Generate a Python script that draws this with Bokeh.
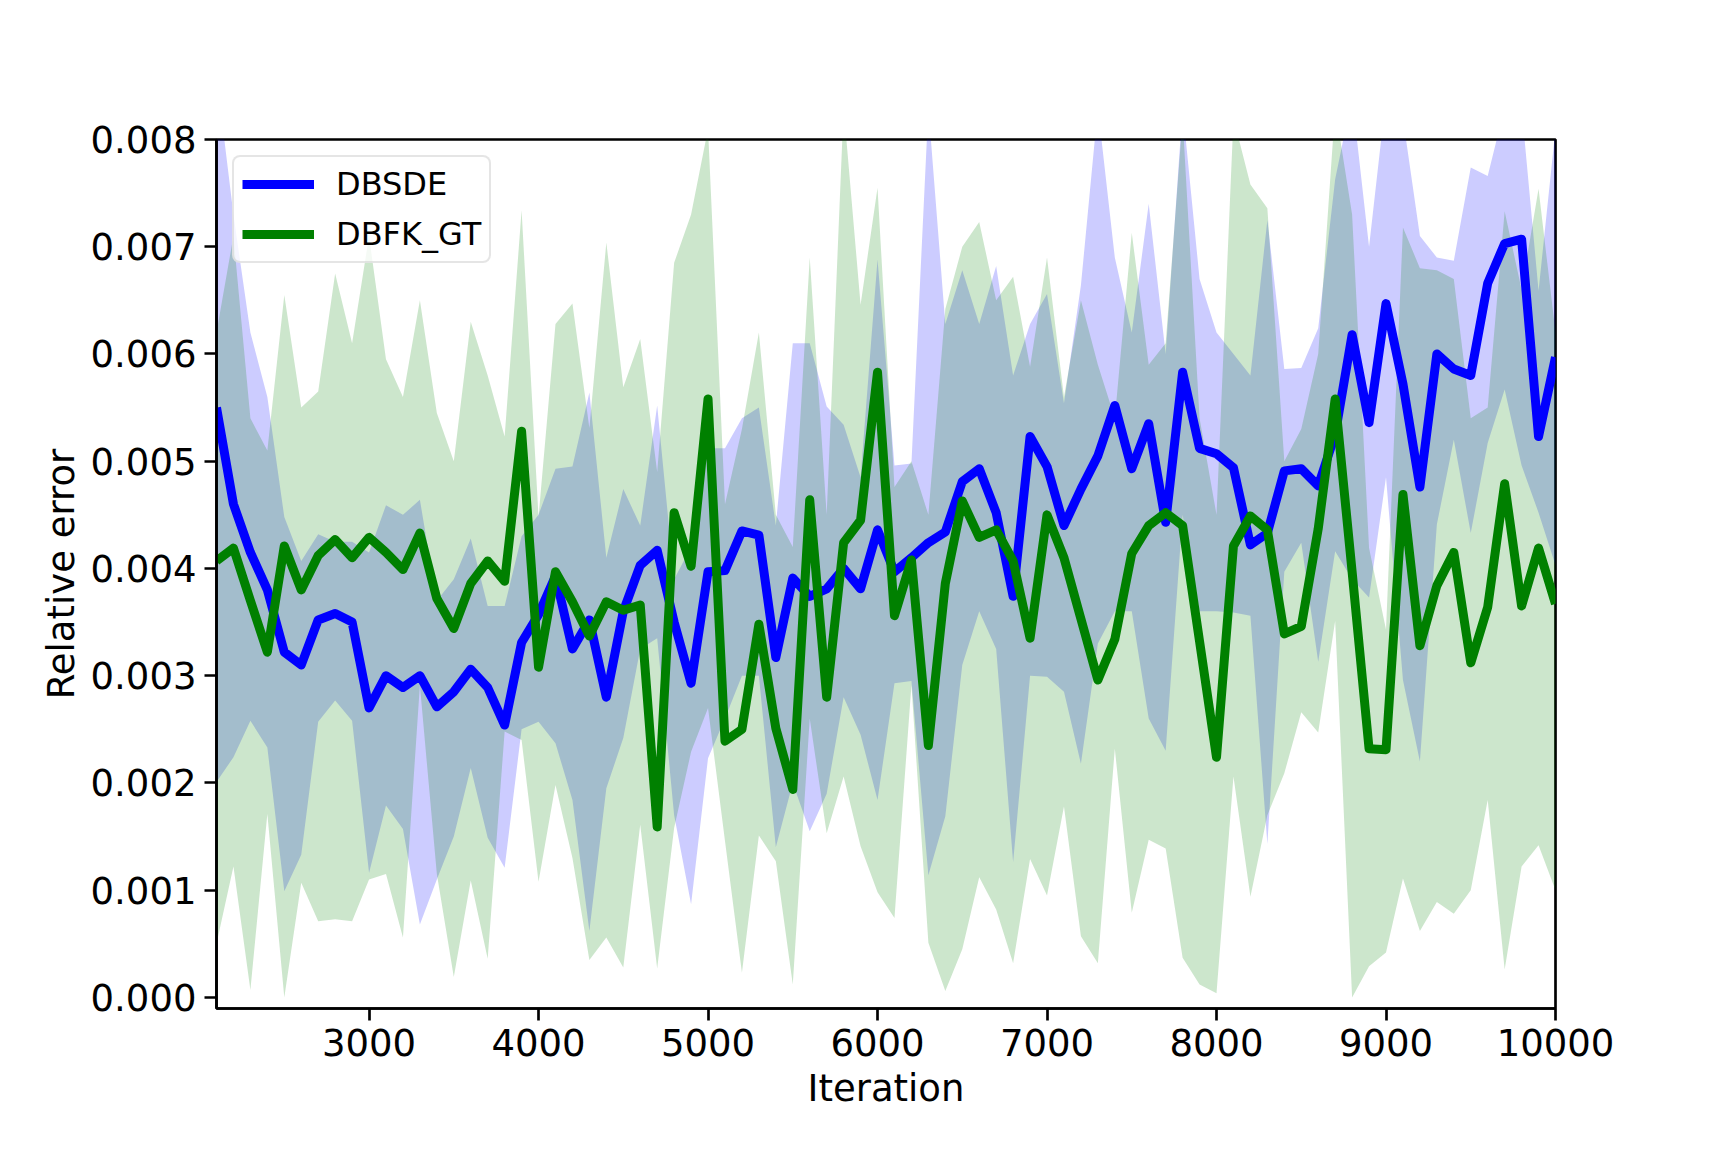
from bokeh.plotting import figure
from bokeh.models import Range1d, FixedTicker, PrintfTickFormatter, Legend, LegendItem, ColumnDataSource
from bokeh.embed import file_html
from bokeh.resources import INLINE

iterations = list(range(2100, 10001, 100))

x_ticks = [3000, 4000, 5000, 6000, 7000, 8000, 9000, 10000]
y_ticks = [0.000, 0.001, 0.002, 0.003, 0.004, 0.005, 0.006, 0.007, 0.008]

dbsde_mean = [
    0.00550, 0.00460, 0.00415, 0.00380, 0.00322, 0.00310, 0.00352, 0.00358, 0.00350, 0.00270,
    0.00300, 0.00289, 0.00300, 0.00271, 0.00285, 0.00306, 0.00289, 0.00254, 0.00331, 0.00357,
    0.00393, 0.00325, 0.00352, 0.00280, 0.00360, 0.00403, 0.00417, 0.00350, 0.00293, 0.00397,
    0.00398, 0.00435, 0.00431, 0.00317, 0.00391, 0.00374, 0.00381, 0.00400, 0.00381, 0.00436,
    0.00397, 0.00410, 0.00424, 0.00434, 0.00481, 0.00493, 0.00452, 0.00374, 0.00523, 0.00495,
    0.00440, 0.00474, 0.00505, 0.00552, 0.00493, 0.00535, 0.00443, 0.00583, 0.00512, 0.00507,
    0.00494, 0.00422, 0.00433, 0.00491, 0.00493, 0.00477, 0.00525, 0.00618, 0.00536, 0.00647,
    0.00572, 0.00476, 0.00600, 0.00586, 0.00580, 0.00666, 0.00703, 0.00707, 0.00523, 0.00597,
]

dbsde_upper = [
    0.00860, 0.00730, 0.00620, 0.00560, 0.00448, 0.00407, 0.00432, 0.00425, 0.00425, 0.00415,
    0.00459, 0.00450, 0.00464, 0.00370, 0.00390, 0.00428, 0.00365, 0.00365, 0.00430, 0.00450,
    0.00493, 0.00495, 0.00564, 0.00410, 0.00474, 0.00440, 0.00552, 0.00390, 0.00420, 0.00512,
    0.00512, 0.00540, 0.00550, 0.00440, 0.00610, 0.00610, 0.00551, 0.00534, 0.00485, 0.00688,
    0.00496, 0.00498, 0.00830, 0.00628, 0.00678, 0.00628, 0.00682, 0.00580, 0.00628, 0.00656,
    0.00554, 0.00664, 0.00830, 0.00690, 0.00620, 0.00740, 0.00600, 0.00830, 0.00670, 0.00620,
    0.00600, 0.00580, 0.00725, 0.00586, 0.00587, 0.00624, 0.00763, 0.00840, 0.00700, 0.00840,
    0.00820, 0.00710, 0.00690, 0.00687, 0.00774, 0.00766, 0.00830, 0.00830, 0.00659, 0.00810,
]

dbsde_lower = [
    0.00201, 0.00224, 0.00258, 0.00233, 0.00099, 0.00133, 0.00257, 0.00277, 0.00258, 0.00116,
    0.00179, 0.00157, 0.00068, 0.00110, 0.00150, 0.00214, 0.00149, 0.00121, 0.00250, 0.00257,
    0.00237, 0.00184, 0.00062, 0.00195, 0.00242, 0.00325, 0.00335, 0.00170, 0.00087, 0.00223,
    0.00260, 0.00300, 0.00300, 0.00140, 0.00200, 0.00155, 0.00190, 0.00280, 0.00245, 0.00184,
    0.00293, 0.00295, 0.00114, 0.00169, 0.00310, 0.00360, 0.00325, 0.00126, 0.00300, 0.00299,
    0.00285, 0.00218, 0.00330, 0.00360, 0.00360, 0.00260, 0.00230, 0.00450, 0.00360, 0.00360,
    0.00359, 0.00356, 0.00143, 0.00397, 0.00424, 0.00313, 0.00416, 0.00390, 0.00373, 0.00485,
    0.00296, 0.00220, 0.00441, 0.00520, 0.00433, 0.00517, 0.00567, 0.00496, 0.00452, 0.00403,
]

dbfk_mean = [
    0.00407, 0.00419, 0.00370, 0.00322, 0.00421, 0.00380, 0.00412, 0.00427, 0.00410, 0.00429,
    0.00415, 0.00399, 0.00433, 0.00372, 0.00344, 0.00386, 0.00407, 0.00388, 0.00528, 0.00308,
    0.00397, 0.00369, 0.00337, 0.00369, 0.00361, 0.00366, 0.00159, 0.00452, 0.00402, 0.00558,
    0.00239, 0.00250, 0.00348, 0.00251, 0.00194, 0.00464, 0.00280, 0.00424, 0.00445, 0.00583,
    0.00356, 0.00408, 0.00235, 0.00386, 0.00463, 0.00429, 0.00436, 0.00407, 0.00335, 0.00450,
    0.00410, 0.00353, 0.00296, 0.00334, 0.00414, 0.00440, 0.00452, 0.00440, 0.00332, 0.00224,
    0.00421, 0.00449, 0.00436, 0.00339, 0.00346, 0.00437, 0.00558, 0.00397, 0.00232, 0.00231,
    0.00469, 0.00328, 0.00384, 0.00415, 0.00312, 0.00364, 0.00479, 0.00365, 0.00419, 0.00367,
]

dbfk_upper = [
    0.00620, 0.00710, 0.00540, 0.00510, 0.00655, 0.00550, 0.00565, 0.00675, 0.00610, 0.00710,
    0.00595, 0.00560, 0.00650, 0.00545, 0.00500, 0.00630, 0.00580, 0.00523, 0.00734, 0.00448,
    0.00628, 0.00647, 0.00531, 0.00704, 0.00569, 0.00614, 0.00490, 0.00685, 0.00730, 0.00810,
    0.00460, 0.00530, 0.00620, 0.00450, 0.00420, 0.00690, 0.00450, 0.00830, 0.00646, 0.00755,
    0.00476, 0.00500, 0.00450, 0.00642, 0.00700, 0.00723, 0.00650, 0.00672, 0.00588, 0.00690,
    0.00560, 0.00650, 0.00590, 0.00540, 0.00713, 0.00590, 0.00610, 0.00820, 0.00540, 0.00450,
    0.00820, 0.00758, 0.00736, 0.00500, 0.00530, 0.00600, 0.00830, 0.00730, 0.00419, 0.00343,
    0.00718, 0.00680, 0.00678, 0.00670, 0.00540, 0.00550, 0.00733, 0.00660, 0.00754, 0.00620,
]

dbfk_lower = [
    0.00050, 0.00122, 0.00007, 0.00171, 0.00000, 0.00107, 0.00071, 0.00073, 0.00071, 0.00110,
    0.00115, 0.00056, 0.00291, 0.00115, 0.00019, 0.00109, 0.00036, 0.00248, 0.00240, 0.00108,
    0.00198, 0.00130, 0.00035, 0.00056, 0.00028, 0.00161, 0.00027, 0.00158, 0.00229, 0.00270,
    0.00146, 0.00023, 0.00151, 0.00127, 0.00012, 0.00260, 0.00153, 0.00206, 0.00141, 0.00098,
    0.00074, 0.00291, 0.00051, 0.00006, 0.00045, 0.00112, 0.00082, 0.00032, 0.00129, 0.00095,
    0.00178, 0.00057, 0.00032, 0.00232, 0.00079, 0.00147, 0.00139, 0.00037, 0.00012, 0.00004,
    0.00206, 0.00094, 0.00170, 0.00209, 0.00266, 0.00247, 0.00351, 0.00000, 0.00029, 0.00042,
    0.00111, 0.00062, 0.00089, 0.00078, 0.00100, 0.00184, 0.00026, 0.00122, 0.00142, 0.00100,
]

source = ColumnDataSource(dict(
    x=iterations,
    b_mean=dbsde_mean, b_hi=dbsde_upper, b_lo=dbsde_lower,
    g_mean=dbfk_mean, g_hi=dbfk_upper, g_lo=dbfk_lower,
))

FONT = "DejaVu Sans"
LW = 9

p = figure(
    width=1712, height=1136,
    output_backend="svg", toolbar_location=None,
    x_range=Range1d(2100, 10000), y_range=Range1d(-0.000103, 0.008),
    min_border_left=216, min_border_right=157,
    min_border_top=139, min_border_bottom=128,
)
p.background_fill_color = "white"
p.border_fill_color = "white"
p.outline_line_color = "black"
p.outline_line_width = 2.67
p.xgrid.visible = False
p.ygrid.visible = False

p.varea(x="x", y1="b_lo", y2="b_hi", source=source, fill_color="blue", fill_alpha=0.2)
p.varea(x="x", y1="g_lo", y2="g_hi", source=source, fill_color="green", fill_alpha=0.2)
r_b = p.line("x", "b_mean", source=source, line_color="blue", line_width=LW, line_join="round")
r_g = p.line("x", "g_mean", source=source, line_color="green", line_width=LW, line_join="round")

p.xaxis.ticker = FixedTicker(ticks=x_ticks)
p.yaxis.ticker = FixedTicker(ticks=y_ticks)
p.yaxis.formatter = PrintfTickFormatter(format="%.3f")
p.xaxis.axis_label = "Iteration"
p.yaxis.axis_label = "Relative error"

for ax in (p.xaxis[0], p.yaxis[0]):
    ax.major_label_text_font = FONT
    ax.major_label_text_font_size = "37px"
    ax.major_label_text_color = "black"
    ax.axis_label_text_font = FONT
    ax.axis_label_text_font_size = "37px"
    ax.axis_label_text_font_style = "normal"
    ax.axis_label_text_color = "black"
    ax.major_tick_out = 12
    ax.major_tick_in = 0
    ax.minor_tick_out = 0
    ax.minor_tick_in = 0
    ax.major_tick_line_width = 2.67
    ax.major_tick_line_color = "black"
    ax.axis_line_width = 2.67
    ax.axis_line_color = "black"
    ax.major_label_standoff = 8
p.xaxis[0].axis_label_standoff = 8
p.yaxis[0].axis_label_standoff = 5

legend = Legend(items=[
    LegendItem(label="DBSDE", renderers=[r_b]),
    LegendItem(label="DBFK_GT", renderers=[r_g]),
], location="top_left")
legend.margin = 16
legend.padding = 8
legend.spacing = 12
legend.glyph_width = 72
legend.glyph_height = 32
legend.label_height = 32
legend.label_standoff = 22
legend.label_text_font = FONT
legend.label_text_font_size = "32px"
legend.label_text_color = "black"
legend.border_line_color = "#cccccc"
legend.border_line_width = 2.67
legend.background_fill_alpha = 0.8
try:
    legend.border_radius = 8
except Exception:
    pass
p.add_layout(legend)

open("out.html", "w").write(file_html(p, INLINE))
